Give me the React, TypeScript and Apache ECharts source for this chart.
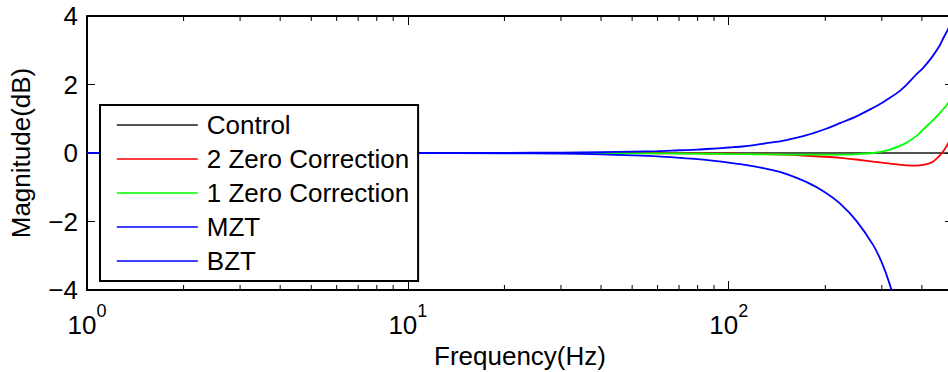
import React, { useEffect, useRef } from "react";
import * as echarts from "echarts";

const FONT = '"Liberation Sans", Arial, Helvetica, sans-serif';

const freqs = [1, 2, 5, 10, 20, 30, 40, 50, 60, 70, 80, 90, 100, 110, 120, 137, 150, 175, 200, 222, 250, 282, 300, 318, 340, 358, 385, 403, 430, 454, 468, 481, 500];

const control = [0, 0, 0, 0, 0, 0, 0, 0, 0, 0, 0, 0, 0, 0, 0, 0, 0, 0, 0, 0, 0, 0, 0, 0, 0, 0, 0, 0, 0, 0, 0, 0, 0];
const twoZero = [0, 0, 0, 0, 0, 0, -0.003, -0.005, -0.008, -0.01, -0.013, -0.016, -0.02, -0.025, -0.03, -0.04, -0.05, -0.08, -0.11, -0.14, -0.19, -0.25, -0.28, -0.31, -0.34, -0.36, -0.37, -0.35, -0.27, -0.08, 0.07, 0.25, 0.6];
const oneZero = [0, 0, 0, 0, 0, 0, -0.005, -0.01, -0.012, -0.015, -0.02, -0.025, -0.03, -0.033, -0.036, -0.04, -0.045, -0.05, -0.05, -0.045, -0.03, 0, 0.04, 0.1, 0.2, 0.3, 0.5, 0.68, 0.93, 1.16, 1.3, 1.44, 1.65];
const mzt = [0, 0, 0, 0.001, 0.005, 0.012, 0.025, 0.04, 0.055, 0.08, 0.1, 0.13, 0.16, 0.19, 0.23, 0.31, 0.37, 0.52, 0.7, 0.87, 1.07, 1.32, 1.46, 1.61, 1.8, 1.99, 2.3, 2.48, 2.8, 3.13, 3.38, 3.59, 3.92];
const bzt = [0, 0, 0, -0.002, -0.01, -0.02, -0.04, -0.07, -0.1, -0.14, -0.18, -0.23, -0.28, -0.33, -0.39, -0.5, -0.6, -0.85, -1.15, -1.47, -1.98, -2.69, -3.2, -3.85, -4.8, null, null, null, null, null, null, null, null];

const seriesNames = ["Control", "2 Zero Correction", "1 Zero Correction", "MZT", "BZT"];
const seriesColors = ["#1a1a1a", "#ff0000", "#00ff00", "#0000ff", "#0000ff"];
const seriesValues = [control, twoZero, oneZero, mzt, bzt];

const yTicks = [-4, -2, 0, 2, 4];
const minorTickValues = [2, 3, 4, 5, 6, 7, 8, 9, 20, 30, 40, 50, 60, 70, 80, 90, 200, 300, 400];

const X_MIN = 1;
const X_MAX = 500;

export default function App() {
  const ref = useRef<HTMLDivElement>(null);
  useEffect(() => {
    if (!ref.current) return;
    const chart = echarts.init(ref.current, undefined, { renderer: "svg" });
    const lineSeries = seriesNames.map((name, i) => ({
      name,
      type: "line",
      data: freqs.map((f, j) => [f, seriesValues[i][j]]),
      symbol: "none",
      showSymbol: false,
      smooth: 0.3,
      connectNulls: false,
      clip: true,
      lineStyle: { color: seriesColors[i], width: i === 0 ? 1.6 : 1.8 },
      itemStyle: { color: seriesColors[i] },
      z: 2 + i,
    }));
    const option: any = {
      animation: false,
      backgroundColor: "#ffffff",
      textStyle: { fontFamily: FONT },
      grid: { left: 87, top: 16, width: 866, height: 274, containLabel: false, outerBoundsMode: "none" },
      legend: {
        orient: "vertical",
        left: 100,
        top: 105,
        data: seriesNames,
        itemWidth: 81,
        itemHeight: 25,
        itemGap: 8,
        padding: [7, 9, 7, 16],
        backgroundColor: "#ffffff",
        borderColor: "#000000",
        borderWidth: 2,
        borderRadius: 0,
        selectedMode: false,
        itemStyle: { opacity: 0 },
        lineStyle: { width: 1.6 },
        textStyle: { fontSize: 26, color: "#000", fontFamily: FONT, lineHeight: 25, padding: [0, 0, 0, 4] },
        z: 10,
      },
      xAxis: [
        {
          type: "log",
          logBase: 10,
          min: X_MIN,
          max: X_MAX,
          position: "bottom",
          name: "Frequency(Hz)",
          nameLocation: "middle",
          nameGap: 46,
          nameTextStyle: { fontSize: 26, color: "#000", fontFamily: FONT },
          axisLine: { show: true, onZero: false, lineStyle: { color: "#000", width: 2 } },
          axisTick: { show: true, inside: true, length: 9, lineStyle: { color: "#000", width: 1 } },
          splitLine: { show: false },
          minorTick: { show: false },
          axisLabel: {
            showMaxLabel: false,
            margin: 12,
            formatter: (v: number) => `{b|10}{s|${Math.round(Math.log10(v))}}`,
            rich: {
              b: { fontSize: 26, lineHeight: 36, color: "#000", fontFamily: FONT, verticalAlign: "bottom" },
              s: { fontSize: 18, lineHeight: 12, color: "#000", fontFamily: FONT, verticalAlign: "top" },
            },
          },
        },
        {
          type: "log",
          logBase: 10,
          min: X_MIN,
          max: X_MAX,
          position: "top",
          axisLine: { show: true, onZero: false, lineStyle: { color: "#000", width: 2 } },
          axisTick: { show: true, inside: true, length: 9, lineStyle: { color: "#000", width: 1 } },
          axisLabel: { show: false },
          splitLine: { show: false },
        },
      ],
      yAxis: [
        {
          type: "value",
          min: -4,
          max: 4,
          interval: 2,
          position: "left",
          name: "Magnitude(dB)",
          nameLocation: "middle",
          nameGap: 53,
          nameRotate: 90,
          nameTextStyle: { fontSize: 26, color: "#000", fontFamily: FONT },
          axisLine: { show: true, lineStyle: { color: "#000", width: 2 } },
          axisTick: { show: true, inside: true, length: 8, lineStyle: { color: "#000", width: 1 } },
          splitLine: { show: false },
          axisLabel: {
            margin: 9,
            fontSize: 26,
            color: "#000",
            fontFamily: FONT,
            customValues: yTicks,
            formatter: (v: number) => (v < 0 ? "\u2212" + Math.abs(v) : String(v)),
          },
        },
        {
          type: "value",
          min: -4,
          max: 4,
          interval: 2,
          position: "right",
          axisLine: { show: true, lineStyle: { color: "#000", width: 2 } },
          axisTick: { show: true, inside: true, length: 8, lineStyle: { color: "#000", width: 1 } },
          axisLabel: { show: false },
          splitLine: { show: false },
        },
      ],
      series: [
        ...lineSeries,
        {
          type: "custom",
          name: "minorTicks",
          silent: true,
          clip: false,
          z: 8,
          data: minorTickValues.map((v) => [v, -4]),
          encode: { x: 0, y: 1 },
          renderItem: (_params: any, api: any) => {
            const v = api.value(0);
            const b = api.coord([v, -4]);
            const t = api.coord([v, 4]);
            return {
              type: "group",
              children: [
                { type: "line", shape: { x1: b[0], y1: b[1], x2: b[0], y2: b[1] - 5 }, style: { stroke: "#000", lineWidth: 1 } },
                { type: "line", shape: { x1: t[0], y1: t[1], x2: t[0], y2: t[1] + 5 }, style: { stroke: "#000", lineWidth: 1 } },
              ],
            };
          },
        },
      ],
    };
    chart.setOption(option);
    return () => chart.dispose();
  }, []);
  return <div ref={ref} style={{ position: "fixed", left: 0, top: 0, width: 948, height: 372 }} />;
}
